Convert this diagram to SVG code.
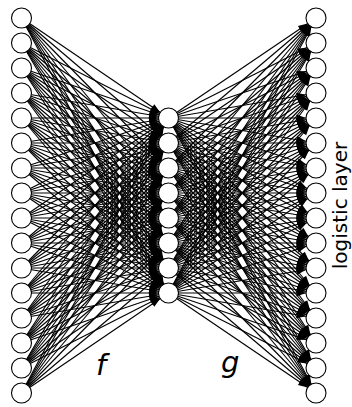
<svg xmlns="http://www.w3.org/2000/svg" width="352" height="407" viewBox="0 0 352 407">
<style>
.e path{stroke:#000;stroke-width:1.15;fill:none;marker-end:url(#ah)}
.n circle{fill:#fff;stroke:#000;stroke-width:1.1}
.lb{font-family:"DejaVu Sans",sans-serif;fill:#000}
.it{font-style:italic;font-size:29px}
</style>
<defs>
<marker id="ah" markerUnits="userSpaceOnUse" markerWidth="22" markerHeight="8" refX="19.5" refY="3.5" orient="auto" overflow="visible">
<path d="M0,0 L9.5,3.5 L0,7 z" fill="#000"/>
</marker>
</defs>
<rect width="352" height="407" fill="#fff"/>
<g id="connectors" class="e">
<path d="M21.5 18L168.5 118"/><path d="M21.5 18L168.5 143"/><path d="M21.5 18L168.5 168"/><path d="M21.5 18L168.5 193"/><path d="M21.5 18L168.5 218"/><path d="M21.5 18L168.5 243"/><path d="M21.5 18L168.5 268"/><path d="M21.5 18L168.5 293"/>
<path d="M21.5 43L168.5 118"/><path d="M21.5 43L168.5 143"/><path d="M21.5 43L168.5 168"/><path d="M21.5 43L168.5 193"/><path d="M21.5 43L168.5 218"/><path d="M21.5 43L168.5 243"/><path d="M21.5 43L168.5 268"/><path d="M21.5 43L168.5 293"/>
<path d="M21.5 68L168.5 118"/><path d="M21.5 68L168.5 143"/><path d="M21.5 68L168.5 168"/><path d="M21.5 68L168.5 193"/><path d="M21.5 68L168.5 218"/><path d="M21.5 68L168.5 243"/><path d="M21.5 68L168.5 268"/><path d="M21.5 68L168.5 293"/>
<path d="M21.5 93L168.5 118"/><path d="M21.5 93L168.5 143"/><path d="M21.5 93L168.5 168"/><path d="M21.5 93L168.5 193"/><path d="M21.5 93L168.5 218"/><path d="M21.5 93L168.5 243"/><path d="M21.5 93L168.5 268"/><path d="M21.5 93L168.5 293"/>
<path d="M21.5 118L168.5 118"/><path d="M21.5 118L168.5 143"/><path d="M21.5 118L168.5 168"/><path d="M21.5 118L168.5 193"/><path d="M21.5 118L168.5 218"/><path d="M21.5 118L168.5 243"/><path d="M21.5 118L168.5 268"/><path d="M21.5 118L168.5 293"/>
<path d="M21.5 143L168.5 118"/><path d="M21.5 143L168.5 143"/><path d="M21.5 143L168.5 168"/><path d="M21.5 143L168.5 193"/><path d="M21.5 143L168.5 218"/><path d="M21.5 143L168.5 243"/><path d="M21.5 143L168.5 268"/><path d="M21.5 143L168.5 293"/>
<path d="M21.5 168L168.5 118"/><path d="M21.5 168L168.5 143"/><path d="M21.5 168L168.5 168"/><path d="M21.5 168L168.5 193"/><path d="M21.5 168L168.5 218"/><path d="M21.5 168L168.5 243"/><path d="M21.5 168L168.5 268"/><path d="M21.5 168L168.5 293"/>
<path d="M21.5 193L168.5 118"/><path d="M21.5 193L168.5 143"/><path d="M21.5 193L168.5 168"/><path d="M21.5 193L168.5 193"/><path d="M21.5 193L168.5 218"/><path d="M21.5 193L168.5 243"/><path d="M21.5 193L168.5 268"/><path d="M21.5 193L168.5 293"/>
<path d="M21.5 218L168.5 118"/><path d="M21.5 218L168.5 143"/><path d="M21.5 218L168.5 168"/><path d="M21.5 218L168.5 193"/><path d="M21.5 218L168.5 218"/><path d="M21.5 218L168.5 243"/><path d="M21.5 218L168.5 268"/><path d="M21.5 218L168.5 293"/>
<path d="M21.5 243L168.5 118"/><path d="M21.5 243L168.5 143"/><path d="M21.5 243L168.5 168"/><path d="M21.5 243L168.5 193"/><path d="M21.5 243L168.5 218"/><path d="M21.5 243L168.5 243"/><path d="M21.5 243L168.5 268"/><path d="M21.5 243L168.5 293"/>
<path d="M21.5 268L168.5 118"/><path d="M21.5 268L168.5 143"/><path d="M21.5 268L168.5 168"/><path d="M21.5 268L168.5 193"/><path d="M21.5 268L168.5 218"/><path d="M21.5 268L168.5 243"/><path d="M21.5 268L168.5 268"/><path d="M21.5 268L168.5 293"/>
<path d="M21.5 293L168.5 118"/><path d="M21.5 293L168.5 143"/><path d="M21.5 293L168.5 168"/><path d="M21.5 293L168.5 193"/><path d="M21.5 293L168.5 218"/><path d="M21.5 293L168.5 243"/><path d="M21.5 293L168.5 268"/><path d="M21.5 293L168.5 293"/>
<path d="M21.5 318L168.5 118"/><path d="M21.5 318L168.5 143"/><path d="M21.5 318L168.5 168"/><path d="M21.5 318L168.5 193"/><path d="M21.5 318L168.5 218"/><path d="M21.5 318L168.5 243"/><path d="M21.5 318L168.5 268"/><path d="M21.5 318L168.5 293"/>
<path d="M21.5 343L168.5 118"/><path d="M21.5 343L168.5 143"/><path d="M21.5 343L168.5 168"/><path d="M21.5 343L168.5 193"/><path d="M21.5 343L168.5 218"/><path d="M21.5 343L168.5 243"/><path d="M21.5 343L168.5 268"/><path d="M21.5 343L168.5 293"/>
<path d="M21.5 368L168.5 118"/><path d="M21.5 368L168.5 143"/><path d="M21.5 368L168.5 168"/><path d="M21.5 368L168.5 193"/><path d="M21.5 368L168.5 218"/><path d="M21.5 368L168.5 243"/><path d="M21.5 368L168.5 268"/><path d="M21.5 368L168.5 293"/>
<path d="M21.5 393L168.5 118"/><path d="M21.5 393L168.5 143"/><path d="M21.5 393L168.5 168"/><path d="M21.5 393L168.5 193"/><path d="M21.5 393L168.5 218"/><path d="M21.5 393L168.5 243"/><path d="M21.5 393L168.5 268"/><path d="M21.5 393L168.5 293"/>
<path d="M168.5 118L316 18"/><path d="M168.5 118L316 43"/><path d="M168.5 118L316 68"/><path d="M168.5 118L316 93"/><path d="M168.5 118L316 118"/><path d="M168.5 118L316 143"/><path d="M168.5 118L316 168"/><path d="M168.5 118L316 193"/><path d="M168.5 118L316 218"/><path d="M168.5 118L316 243"/><path d="M168.5 118L316 268"/><path d="M168.5 118L316 293"/><path d="M168.5 118L316 318"/><path d="M168.5 118L316 343"/><path d="M168.5 118L316 368"/><path d="M168.5 118L316 393"/>
<path d="M168.5 143L316 18"/><path d="M168.5 143L316 43"/><path d="M168.5 143L316 68"/><path d="M168.5 143L316 93"/><path d="M168.5 143L316 118"/><path d="M168.5 143L316 143"/><path d="M168.5 143L316 168"/><path d="M168.5 143L316 193"/><path d="M168.5 143L316 218"/><path d="M168.5 143L316 243"/><path d="M168.5 143L316 268"/><path d="M168.5 143L316 293"/><path d="M168.5 143L316 318"/><path d="M168.5 143L316 343"/><path d="M168.5 143L316 368"/><path d="M168.5 143L316 393"/>
<path d="M168.5 168L316 18"/><path d="M168.5 168L316 43"/><path d="M168.5 168L316 68"/><path d="M168.5 168L316 93"/><path d="M168.5 168L316 118"/><path d="M168.5 168L316 143"/><path d="M168.5 168L316 168"/><path d="M168.5 168L316 193"/><path d="M168.5 168L316 218"/><path d="M168.5 168L316 243"/><path d="M168.5 168L316 268"/><path d="M168.5 168L316 293"/><path d="M168.5 168L316 318"/><path d="M168.5 168L316 343"/><path d="M168.5 168L316 368"/><path d="M168.5 168L316 393"/>
<path d="M168.5 193L316 18"/><path d="M168.5 193L316 43"/><path d="M168.5 193L316 68"/><path d="M168.5 193L316 93"/><path d="M168.5 193L316 118"/><path d="M168.5 193L316 143"/><path d="M168.5 193L316 168"/><path d="M168.5 193L316 193"/><path d="M168.5 193L316 218"/><path d="M168.5 193L316 243"/><path d="M168.5 193L316 268"/><path d="M168.5 193L316 293"/><path d="M168.5 193L316 318"/><path d="M168.5 193L316 343"/><path d="M168.5 193L316 368"/><path d="M168.5 193L316 393"/>
<path d="M168.5 218L316 18"/><path d="M168.5 218L316 43"/><path d="M168.5 218L316 68"/><path d="M168.5 218L316 93"/><path d="M168.5 218L316 118"/><path d="M168.5 218L316 143"/><path d="M168.5 218L316 168"/><path d="M168.5 218L316 193"/><path d="M168.5 218L316 218"/><path d="M168.5 218L316 243"/><path d="M168.5 218L316 268"/><path d="M168.5 218L316 293"/><path d="M168.5 218L316 318"/><path d="M168.5 218L316 343"/><path d="M168.5 218L316 368"/><path d="M168.5 218L316 393"/>
<path d="M168.5 243L316 18"/><path d="M168.5 243L316 43"/><path d="M168.5 243L316 68"/><path d="M168.5 243L316 93"/><path d="M168.5 243L316 118"/><path d="M168.5 243L316 143"/><path d="M168.5 243L316 168"/><path d="M168.5 243L316 193"/><path d="M168.5 243L316 218"/><path d="M168.5 243L316 243"/><path d="M168.5 243L316 268"/><path d="M168.5 243L316 293"/><path d="M168.5 243L316 318"/><path d="M168.5 243L316 343"/><path d="M168.5 243L316 368"/><path d="M168.5 243L316 393"/>
<path d="M168.5 268L316 18"/><path d="M168.5 268L316 43"/><path d="M168.5 268L316 68"/><path d="M168.5 268L316 93"/><path d="M168.5 268L316 118"/><path d="M168.5 268L316 143"/><path d="M168.5 268L316 168"/><path d="M168.5 268L316 193"/><path d="M168.5 268L316 218"/><path d="M168.5 268L316 243"/><path d="M168.5 268L316 268"/><path d="M168.5 268L316 293"/><path d="M168.5 268L316 318"/><path d="M168.5 268L316 343"/><path d="M168.5 268L316 368"/><path d="M168.5 268L316 393"/>
<path d="M168.5 293L316 18"/><path d="M168.5 293L316 43"/><path d="M168.5 293L316 68"/><path d="M168.5 293L316 93"/><path d="M168.5 293L316 118"/><path d="M168.5 293L316 143"/><path d="M168.5 293L316 168"/><path d="M168.5 293L316 193"/><path d="M168.5 293L316 218"/><path d="M168.5 293L316 243"/><path d="M168.5 293L316 268"/><path d="M168.5 293L316 293"/><path d="M168.5 293L316 318"/><path d="M168.5 293L316 343"/><path d="M168.5 293L316 368"/><path d="M168.5 293L316 393"/>
</g>
<g id="input-layer" class="n">
<circle id="in1" cx="21.5" cy="18" r="10"/><circle id="in2" cx="21.5" cy="43" r="10"/><circle id="in3" cx="21.5" cy="68" r="10"/><circle id="in4" cx="21.5" cy="93" r="10"/>
<circle id="in5" cx="21.5" cy="118" r="10"/><circle id="in6" cx="21.5" cy="143" r="10"/><circle id="in7" cx="21.5" cy="168" r="10"/><circle id="in8" cx="21.5" cy="193" r="10"/>
<circle id="in9" cx="21.5" cy="218" r="10"/><circle id="in10" cx="21.5" cy="243" r="10"/><circle id="in11" cx="21.5" cy="268" r="10"/><circle id="in12" cx="21.5" cy="293" r="10"/>
<circle id="in13" cx="21.5" cy="318" r="10"/><circle id="in14" cx="21.5" cy="343" r="10"/><circle id="in15" cx="21.5" cy="368" r="10"/><circle id="in16" cx="21.5" cy="393" r="10"/>
</g>
<g id="hidden-layer" class="n">
<circle id="h1" cx="168.5" cy="118" r="10"/><circle id="h2" cx="168.5" cy="143" r="10"/><circle id="h3" cx="168.5" cy="168" r="10"/><circle id="h4" cx="168.5" cy="193" r="10"/>
<circle id="h5" cx="168.5" cy="218" r="10"/><circle id="h6" cx="168.5" cy="243" r="10"/><circle id="h7" cx="168.5" cy="268" r="10"/><circle id="h8" cx="168.5" cy="293" r="10"/>
</g>
<g id="output-layer" class="n">
<circle id="o1" cx="316" cy="18" r="10"/><circle id="o2" cx="316" cy="43" r="10"/><circle id="o3" cx="316" cy="68" r="10"/><circle id="o4" cx="316" cy="93" r="10"/>
<circle id="o5" cx="316" cy="118" r="10"/><circle id="o6" cx="316" cy="143" r="10"/><circle id="o7" cx="316" cy="168" r="10"/><circle id="o8" cx="316" cy="193" r="10"/>
<circle id="o9" cx="316" cy="218" r="10"/><circle id="o10" cx="316" cy="243" r="10"/><circle id="o11" cx="316" cy="268" r="10"/><circle id="o12" cx="316" cy="293" r="10"/>
<circle id="o13" cx="316" cy="318" r="10"/><circle id="o14" cx="316" cy="343" r="10"/><circle id="o15" cx="316" cy="368" r="10"/><circle id="o16" cx="316" cy="393" r="10"/>
</g>
<g id="labels">
<text class="lb it" x="96" y="375" font-size="31">f</text>
<text class="lb it" x="221" y="372">g</text>
<text class="lb" font-size="20" text-anchor="middle" transform="translate(347 205.5) rotate(-90)">logistic layer</text>
</g>
</svg>
